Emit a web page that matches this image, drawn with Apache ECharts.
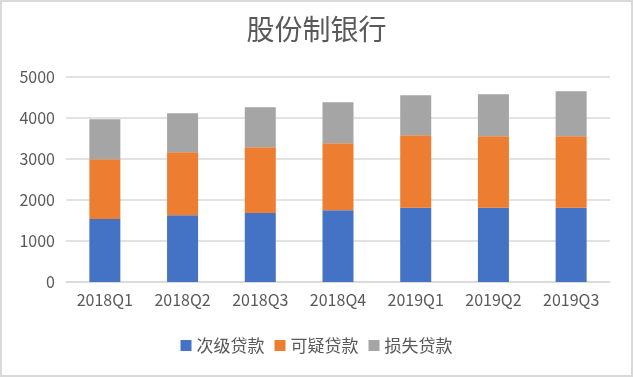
<!DOCTYPE html>
<html><head><meta charset="utf-8">
<script src="https://cdn.jsdelivr.net/npm/echarts@6/dist/echarts.min.js"></script>
<style>
html,body{margin:0;padding:0;background:#fff;}
#c{width:633px;height:377px;box-sizing:border-box;border:2px solid #d9d9d9;}
</style></head>
<body><div id="c"></div>
<script>
const categories = ['2018Q1','2018Q2','2018Q3','2018Q4','2019Q1','2019Q2','2019Q3'];
const subprime = [1534, 1631, 1680, 1753, 1810, 1810, 1810];
const doubtful = [1461, 1535, 1607, 1632, 1770, 1745, 1745];
const loss = [974, 949, 974, 998, 974, 1023, 1096];
const seriesNames = ['次级贷款','可疑贷款','损失贷款'];
const yTicks = [0, 1000, 2000, 3000, 4000, 5000];

const font = '"Noto Sans CJK SC", "Noto Sans", sans-serif';
const chart = echarts.init(document.getElementById('c'));
const colors = ['#4472c4','#ed7d31','#a5a5a5'];
const values = [subprime, doubtful, loss];
chart.setOption({
  animation: false,
  textStyle: {fontFamily: font},
  title: {text: '股份制银行', left: 'center', top: 8,
    textStyle: {fontFamily: font, fontSize: 28, fontWeight: 'normal', color: '#595959'}},
  grid: {left: 64, right: 21, top: 75, bottom: 93},
  legend: {bottom: 16, left: 'center', itemWidth: 11, itemHeight: 11, itemGap: 10,
    icon: 'rect', textStyle: {fontFamily: font, fontSize: 17, color: '#595959'},
    data: seriesNames},
  xAxis: {type: 'category', data: categories,
    axisLine: {lineStyle: {color: '#d9d9d9', width: 1.5}}, axisTick: {show: false},
    axisLabel: {color: '#595959', fontSize: 16, margin: 10, fontFamily: font}},
  yAxis: {type: 'value', min: yTicks[0], max: yTicks[yTicks.length-1], interval: 1000,
    axisLine: {show: false}, axisTick: {show: false},
    splitLine: {lineStyle: {color: '#d9d9d9', width: 1.5}},
    axisLabel: {color: '#595959', fontSize: 16, margin: 11, fontFamily: font,
      formatter: v => String(v)}},
  series: seriesNames.map((n, i) => ({
    name: n, type: 'bar', stack: 'total', data: values[i], barWidth: 31,
    itemStyle: {color: colors[i]}
  }))
});
</script></body></html>
